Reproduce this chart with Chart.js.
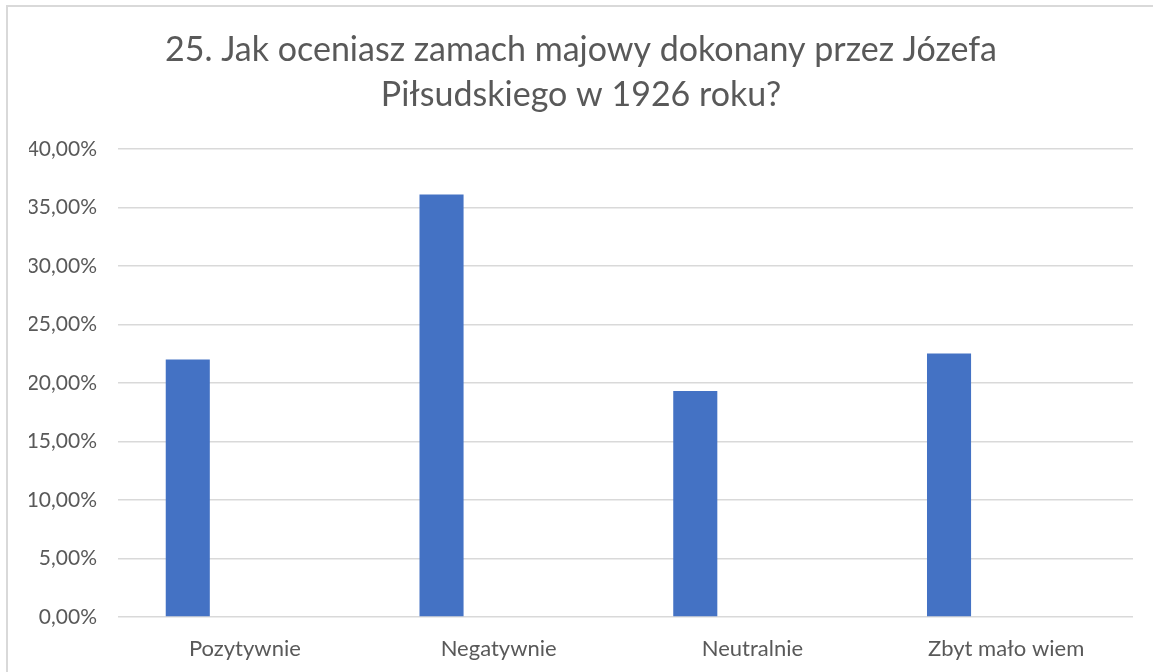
<!DOCTYPE html>
<html>
<head>
<meta charset="utf-8">
<script src="https://cdn.jsdelivr.net/npm/chart.js@4.4.1/dist/chart.umd.min.js"></script>
<style>
  html, body { margin: 0; padding: 0; background: #fff; overflow: hidden; }
  #ramka { position: absolute; left: 6px; top: 5px; width: 1200px; height: 720px; border: 2px solid #d9d9d9; box-sizing: border-box; }
  #wrap { position: absolute; left: 0; top: 0; width: 1153px; height: 672px; }
</style>
</head>
<body>
<div id="ramka"></div>
<div id="wrap"><canvas id="grafica" width="1153" height="672"></canvas></div>
<script>
// ========== DANE ==========
const tytul = ["25. Jak oceniasz zamach majowy dokonany przez Józefa", "Piłsudskiego w 1926 roku?"];
const kategorie = ["Pozytywnie", "Negatywnie", "Neutralnie", "Zbyt mało wiem"];
const procenty = [22.0, 36.1, 19.3, 22.5];
const seria2 = []; // pusta druga seria (przesuwa słupki w lewo)
const osY = { min: 0, max: 40, krok: 5 };

const SZARY = "#595959";
const FONT = "Lato, 'Open Sans', sans-serif";

function procent(v){ return v.toFixed(2).replace(".", ",") + "%"; }

// ========== WYKRES ==========
new Chart(document.getElementById("grafica"), {
  type: "bar",
  data: {
    labels: kategorie,
    datasets: [
      { label: "Seria1", data: procenty, backgroundColor: "#4472c4",
        barPercentage: 0.386, categoryPercentage: 0.9 },
      { label: "Seria2", data: seria2, backgroundColor: "#ed7d31",
        barPercentage: 0.386, categoryPercentage: 0.9 }
    ]
  },
  options: {
    responsive: false,
    animation: false,
    layout: { padding: { left: 29, right: 20, top: 0, bottom: 0 } },
    plugins: {
      legend: { display: false },
      tooltip: { enabled: false },
      title: {
        display: true,
        text: tytul,
        color: SZARY,
        font: { family: FONT, size: 34, weight: "normal", lineHeight: 1.32 },
        padding: { top: 28, bottom: 31 }
      }
    },
    scales: {
      x: {
        grid: { display: false },
        border: { display: false },
        ticks: { color: SZARY, font: { family: FONT, size: 22 }, padding: 11 },
        afterFit: s => { s.height = 55; }
      },
      y: {
        min: osY.min, max: osY.max,
        grid: { color: "#d9d9d9", lineWidth: 1.5, drawTicks: false },
        border: { display: false },
        ticks: { stepSize: osY.krok, color: SZARY, font: { family: FONT, size: 21 },
          padding: 21, callback: v => procent(v) },
        afterFit: s => { s.width = 89; }
      }
    }
  }
});
</script>
</body>
</html>
